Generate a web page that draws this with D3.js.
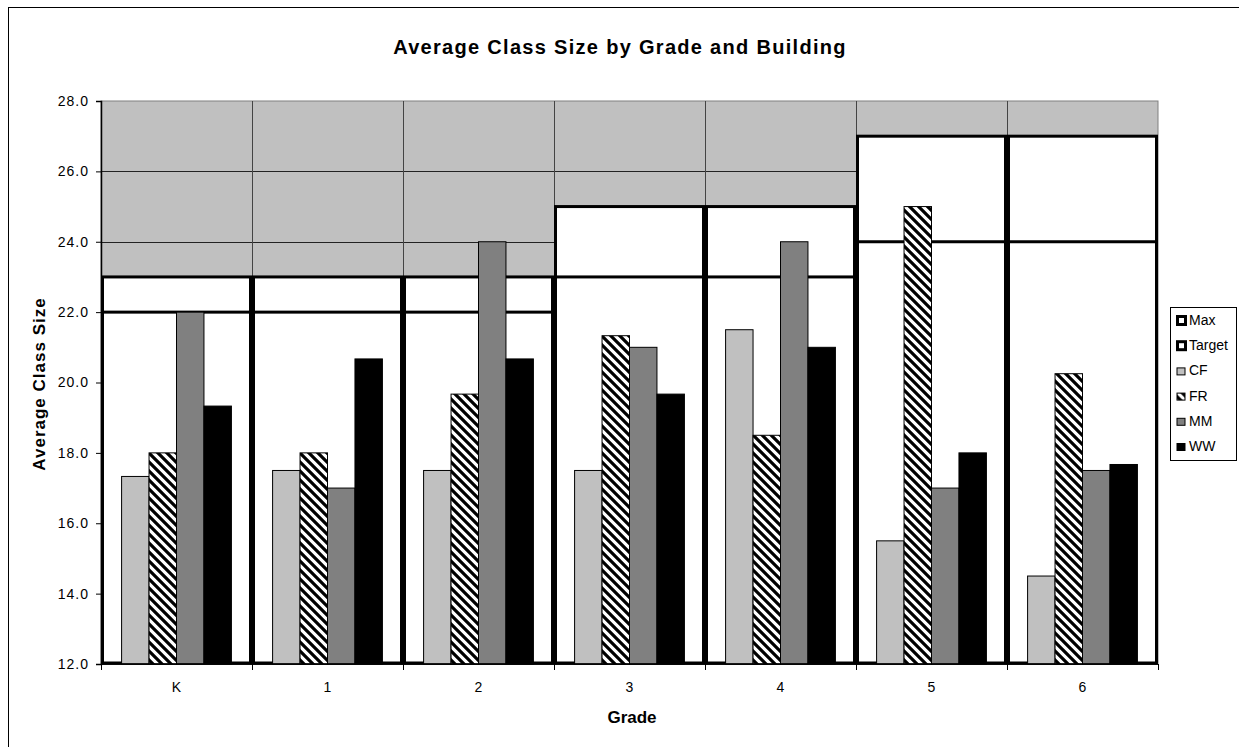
<!DOCTYPE html>
<html>
<head>
<meta charset="utf-8">
<script src="https://cdn.jsdelivr.net/npm/d3@7"></script>
<style>
  html, body { margin: 0; padding: 0; background: #fff; }
  svg { display: block; font-family: "Liberation Sans", Arial, sans-serif; }
</style>
</head>
<body>
<svg id="chart" width="1239" height="747"></svg>
<script>
// Grades and per-building average class sizes
const grades = ["K", "1", "2", "3", "4", "5", "6"];
const maxSize = [23, 23, 23, 25, 25, 27, 27];
const targetSize = [22, 22, 22, 23, 23, 24, 24];
const buildings = ["CF", "FR", "MM", "WW"];
const cfValues = [17.33, 17.5, 17.5, 17.5, 21.5, 15.5, 14.5];
const frValues = [18.0, 18.0, 19.67, 21.33, 18.5, 25.0, 20.25];
const mmValues = [22.0, 17.0, 24.0, 21.0, 24.0, 17.0, 17.5];
const wwValues = [19.33, 20.67, 20.67, 19.67, 21.0, 18.0, 17.67];
const yTicks = [12, 14, 16, 18, 20, 22, 24, 26, 28];

const seriesValues = { CF: cfValues, FR: frValues, MM: mmValues, WW: wwValues };
const fills = { CF: "#c0c0c0", FR: "url(#hatchFR)", MM: "#808080", WW: "#000000" };

const svg = d3.select("#chart");

// Diagonal hatch used for FR
const defs = svg.append("defs");
const pat = defs.append("pattern")
  .attr("id", "hatchFR")
  .attr("patternUnits", "userSpaceOnUse")
  .attr("width", 9).attr("height", 9);
pat.append("rect").attr("width", 9).attr("height", 9).attr("fill", "#fff");
pat.append("path")
  .attr("d", "M-3,-3 L12,12 M-3,6 L3,12 M6,-3 L12,3")
  .attr("stroke", "#000").attr("stroke-width", 3.2);

// Outer chart border
svg.append("rect")
  .attr("x", 8.5).attr("y", 7.5)
  .attr("width", 1240).attr("height", 760)
  .attr("fill", "none").attr("stroke", "#000").attr("stroke-width", 1);

const plotLeft = 101, plotRight = 1158, plotTop = 101, plotBottom = 664;

const x = d3.scaleBand().domain(grades).range([plotLeft, plotRight]).padding(0);
const x1 = d3.scaleBand().domain(buildings).range([0, x.bandwidth()])
  .paddingInner(0).paddingOuter(0.75);
const y = d3.scaleLinear().domain([12, 28]).range([plotBottom, plotTop]);

// Plot area background
svg.append("rect")
  .attr("x", plotLeft).attr("y", plotTop)
  .attr("width", plotRight - plotLeft).attr("height", plotBottom - plotTop)
  .attr("fill", "#c0c0c0").attr("stroke", "#808080").attr("stroke-width", 1);

// Horizontal gridlines
svg.append("g").selectAll("line")
  .data(yTicks.filter(t => t > 12 && t < 28))
  .join("line")
  .attr("x1", plotLeft).attr("x2", plotRight)
  .attr("y1", d => Math.round(y(d)) + 0.5).attr("y2", d => Math.round(y(d)) + 0.5)
  .attr("stroke", "#222").attr("stroke-width", 1);

// Vertical gridlines at category boundaries
svg.append("g").selectAll("line")
  .data(grades.slice(1))
  .join("line")
  .attr("x1", d => Math.round(x(d)) + 0.5).attr("x2", d => Math.round(x(d)) + 0.5)
  .attr("y1", plotTop).attr("y2", plotBottom)
  .attr("stroke", "#444").attr("stroke-width", 1);

// Max and Target bands (full-width white bars with heavy outline)
function drawBand(values) {
  svg.append("g").selectAll("rect")
    .data(grades.map((g, i) => ({ g, v: values[i] })))
    .join("rect")
    .attr("x", d => x(d.g) + 1.5)
    .attr("width", x.bandwidth() - 3)
    .attr("y", d => y(d.v))
    .attr("height", d => y(12) - y(d.v) - 1)
    .attr("fill", "#fff").attr("stroke", "#000").attr("stroke-width", 3);
}
drawBand(maxSize);
drawBand(targetSize);

// Clustered building bars
const groups = svg.append("g").selectAll("g")
  .data(grades.map((g, i) => ({ g, i })))
  .join("g")
  .attr("transform", d => `translate(${x(d.g)},0)`);

groups.selectAll("rect")
  .data(d => buildings.map(b => ({ b, v: seriesValues[b][d.i] })))
  .join("rect")
  .attr("x", d => x1(d.b))
  .attr("width", x1.bandwidth())
  .attr("y", d => y(d.v))
  .attr("height", d => y(12) - y(d.v))
  .attr("fill", d => fills[d.b])
  .attr("stroke", "#000").attr("stroke-width", 1);

// Y axis
const yAxis = d3.axisLeft(y).tickValues(yTicks).tickSize(5).tickPadding(7)
  .tickFormat(d3.format(".1f"));
const gy = svg.append("g").attr("transform", `translate(${plotLeft},0)`).call(yAxis);
gy.select(".domain").attr("stroke", "#000").attr("stroke-width", 1.5);
gy.selectAll(".tick line").attr("stroke", "#000");
gy.selectAll("text").attr("font-size", 14).attr("fill", "#000")
  .attr("letter-spacing", 1)
  .attr("font-family", "Liberation Sans, Arial, sans-serif");

// X axis: ticks fall between categories
const gx = svg.append("g").attr("transform", `translate(0,${plotBottom})`);
gx.append("line").attr("x1", plotLeft).attr("x2", plotRight).attr("y1", 0).attr("y2", 0)
  .attr("stroke", "#000").attr("stroke-width", 1.5);
gx.selectAll("line.tk")
  .data(grades.map(g => x(g)).concat([plotRight]))
  .join("line").attr("class", "tk")
  .attr("x1", d => Math.round(d) + 0.5).attr("x2", d => Math.round(d) + 0.5)
  .attr("y1", 0).attr("y2", 6).attr("stroke", "#000");
gx.selectAll("text")
  .data(grades)
  .join("text")
  .attr("x", d => x(d) + x.bandwidth() / 2)
  .attr("y", 28)
  .attr("text-anchor", "middle")
  .attr("font-size", 14)
  .text(d => d);

// Titles
svg.append("text")
  .attr("x", 620).attr("y", 54)
  .attr("text-anchor", "middle")
  .attr("font-size", 20).attr("font-weight", "bold")
  .attr("letter-spacing", 1.3)
  .text("Average Class Size by Grade and Building");

svg.append("text")
  .attr("x", 632).attr("y", 723)
  .attr("text-anchor", "middle")
  .attr("font-size", 17).attr("font-weight", "bold")
  .text("Grade");

svg.append("text")
  .attr("transform", "translate(45,384) rotate(-90)")
  .attr("text-anchor", "middle")
  .attr("font-size", 17).attr("font-weight", "bold")
  .attr("letter-spacing", 1)
  .text("Average Class Size");

// Legend
const legendItems = [
  { name: "Max", fill: "#fff", heavy: true },
  { name: "Target", fill: "#fff", heavy: true },
  { name: "CF", fill: fills.CF },
  { name: "FR", fill: fills.FR },
  { name: "MM", fill: fills.MM },
  { name: "WW", fill: fills.WW }
];
const lg = svg.append("g");
lg.append("rect")
  .attr("x", 1170.5).attr("y", 307.5).attr("width", 66).attr("height", 153)
  .attr("fill", "#fff").attr("stroke", "#000").attr("stroke-width", 1);
const li = lg.selectAll("g.item").data(legendItems).join("g")
  .attr("class", "item")
  .attr("transform", (d, i) => `translate(1176,${320 + i * 25.2})`);
li.append("rect")
  .attr("x", d => d.heavy ? 1.5 : 1).attr("y", d => d.heavy ? -3.5 : -2.5)
  .attr("width", d => d.heavy ? 8 : 8).attr("height", d => d.heavy ? 8 : 7)
  .attr("fill", d => d.fill).attr("stroke", "#000")
  .attr("stroke-width", d => d.heavy ? 3 : 1);
li.append("text")
  .attr("x", 13).attr("y", 5)
  .attr("font-size", 14)
  .text(d => d.name);
</script>
</body>
</html>
